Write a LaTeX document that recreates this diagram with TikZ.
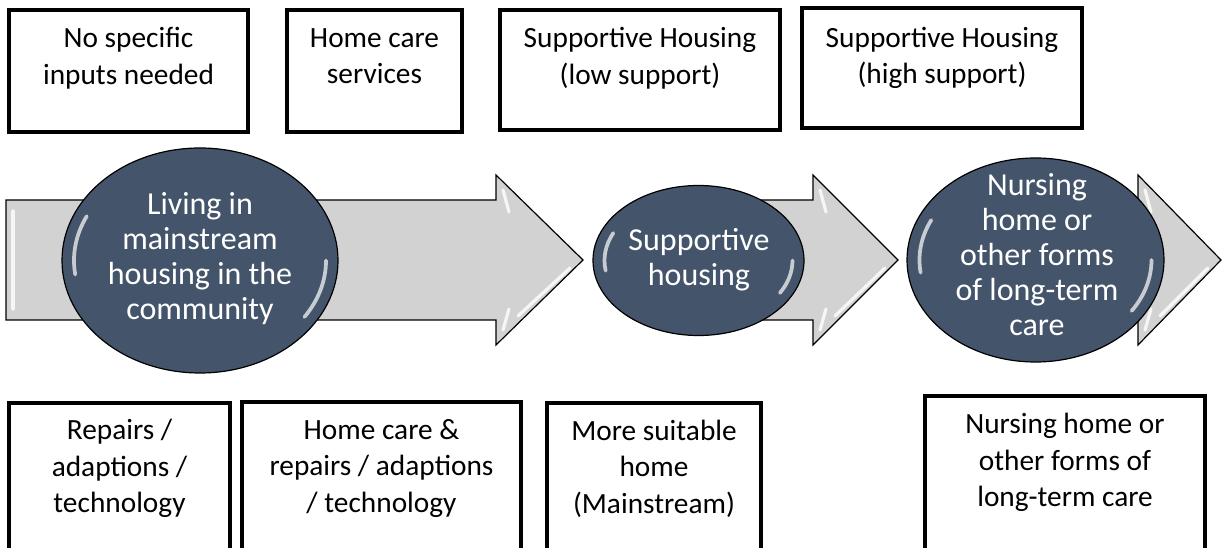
\documentclass[tikz,border=0pt]{standalone}
\usepackage{fontspec}
\setmainfont{Carlito}
\usetikzlibrary{shapes.geometric}
\definecolor{slate}{HTML}{44546A}
\definecolor{flowgray}{HTML}{D2D2D2}
\colorlet{rimA}{slate!72!white}
\colorlet{rimB}{slate!38!white}
\pgfdeclareradialshading{glossy}{\pgfpoint{0bp}{0bp}}{%
  color(0bp)=(slate); color(43bp)=(slate); color(48bp)=(rimA); color(50bp)=(rimB)}
\begin{document}
\begin{tikzpicture}[x=0.75pt,y=-0.75pt,
  sz/.style 2 args={minimum width=#1*0.75pt,minimum height=#2*0.75pt},
  box/.style={rectangle,draw=black,line width=2.6pt,fill=white,inner sep=0pt},
  boxtext/.style={align=center,inner sep=0pt,font=\fontsize{22}{27.4}\selectfont,
    execute at begin node=\strut,execute at end node=\strut},
  stage/.style={ellipse,draw=black,line width=0.9pt,shade,shading=glossy,inner sep=0pt},
  stagetext/.style={align=center,inner sep=0pt,text=white,font=\fontsize{24}{26.25}\selectfont,
    execute at begin node=\strut,execute at end node=\strut},
  flow/.style={draw=black,line width=0.9pt,fill=flowgray,line join=miter},
  shine/.style={draw=white,line width=2.4pt,opacity=0.8,line cap=round},
  gloss/.style={draw=white,line width=2.8pt,opacity=0.7,line cap=round}]

\useasboundingbox (0,0) rectangle (1222,548);
\fill[white] (0,0) rectangle (1222,548);

% flow arrows
\draw[flow] (6,200) -- (496,200) -- (496,175) -- (583,260) -- (496,345) -- (496,320) -- (6,320) -- cycle;
\draw[shine] (13,211) -- (13,309);
\draw[shine] (503,190) -- (509,212);
\draw[shine] (503,330) -- (509,309);
\draw[shine] (570,268) -- (518,316);

\draw[flow] (650,200) -- (813,200) -- (813,175) -- (898,260) -- (813,345) -- (813,320) -- (650,320) -- cycle;
\draw[shine] (820,190) -- (826,212);
\draw[shine] (820,330) -- (826,309);
\draw[shine] (885,268) -- (835,316);

\draw[flow] (1000,200) -- (1138,200) -- (1138,175) -- (1221,260) -- (1138,345) -- (1138,320) -- (1000,320) -- cycle;
\draw[shine] (1145,190) -- (1151,212);
\draw[shine] (1145,330) -- (1151,309);
\draw[shine] (1208,268) -- (1160,316);

% stages
\node[stage,sz={276}{225}] (c1) at (200,260.5) {};
\draw[gloss] (c1.center) ++(172:126 and 101) arc[start angle=172,end angle=206,x radius=126,y radius=101];
\draw[gloss] (c1.center) ++(0:126 and 101) arc[start angle=0,end angle=34,x radius=126,y radius=101];
\node[stagetext] (t1) at (200,261) {Living in\\mainstream\\housing in the\\community};

\node[stage,sz={211}{150}] (c2) at (698.5,260.5) {};
\draw[gloss] (c2.center) ++(171:94 and 65) arc[start angle=171,end angle=205,x radius=94,y radius=65];
\draw[gloss] (c2.center) ++(0:94 and 65) arc[start angle=0,end angle=30,x radius=94,y radius=65];
\node[stagetext] (t2) at (699,262.5) {Supportive\\housing};

\node[stage,sz={257}{204}] (c3) at (1035.5,260) {};
\draw[gloss] (c3.center) ++(172:116 and 91) arc[start angle=172,end angle=206,x radius=116,y radius=91];
\draw[gloss] (c3.center) ++(0:116 and 91) arc[start angle=0,end angle=34,x radius=116,y radius=91];
\node[stagetext] (t3) at (1037,260) {Nursing\\home or\\other forms\\of long-term\\care};

% top boxes
\node[box,sz={239}{122}] (b1) at (128.5,71) {};
\node[boxtext] (l1) at (128.5,61.5) {No specific\\inputs needed};
\node[box,sz={175}{122}] (b2) at (374.5,71) {};
\node[boxtext] (l2) at (374.5,61.5) {Home care\\services};
\node[box,sz={280}{120}] (b3) at (640,70) {};
\node[boxtext] (l3) at (640,61.5) {Supportive Housing\\(low support)};
\node[box,sz={280}{120},line width=3pt] (b4) at (942,68) {};
\node[boxtext] (l4) at (942,61) {Supportive Housing\\(high support)};

% bottom boxes
\node[box,sz={221}{167}] (b5) at (119.5,486.5) {};
\node[boxtext] (l5) at (119.5,471.5) {Repairs /\\adaptions /\\technology};
\node[box,sz={279}{168},line width=3pt] (b6) at (381.5,486) {};
\node[boxtext] (l6) at (381.5,471) {Home care \&\\repairs / adaptions\\/ technology};
\node[box,sz={214}{167}] (b7) at (654,486.5) {};
\node[boxtext] (l7) at (654,472) {More suitable\\home\\(Mainstream)};
\node[box,sz={280}{174},line width=3pt] (b8) at (1065,483) {};
\node[boxtext] (l8) at (1065,465.5) {Nursing home or\\other forms of\\long-term care};
\end{tikzpicture}
\end{document}
